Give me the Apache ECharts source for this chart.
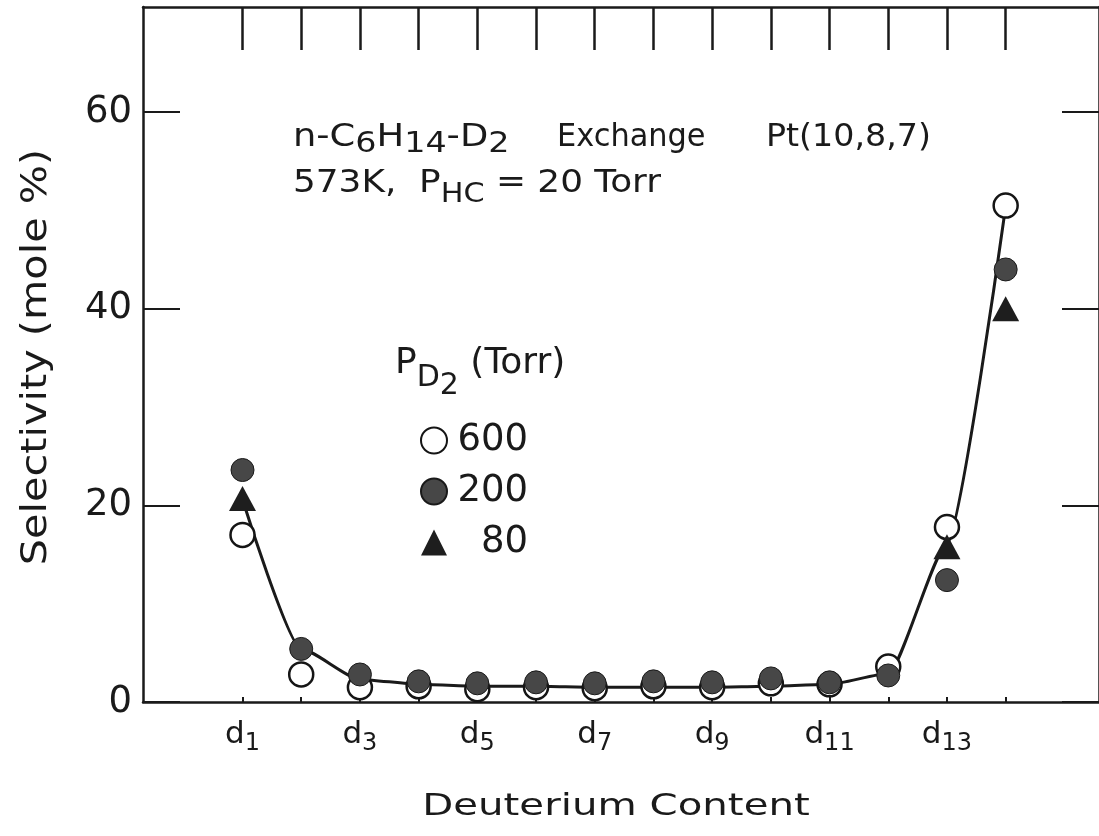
<!DOCTYPE html>
<html>
<head>
<meta charset="utf-8">
<script src="https://cdn.jsdelivr.net/npm/echarts@6/dist/echarts.min.js"></script>
<style>
  html, body { margin: 0; padding: 0; background: #fff; }
  #main { width: 1099px; height: 836px; }
</style>
</head>
<body>
<div id="main"></div>
<script>
// deuterium content d1..d14
const dIndex = [1, 2, 3, 4, 5, 6, 7, 8, 9, 10, 11, 12, 13, 14];
const dLabels = [1, 3, 5, 7, 9, 11, 13];
const yTicks = [0, 20, 40, 60];

// P_D2 = 600 Torr (open circles)
const sel600 = [17.0, 2.8, 1.5, 1.6, 1.3, 1.5, 1.4, 1.6, 1.5, 1.9, 1.8, 3.6, 17.8, 50.5];
// P_D2 = 200 Torr (filled circles)
const sel200 = [23.6, 5.4, 2.8, 2.1, 1.9, 2.0, 1.9, 2.1, 2.0, 2.4, 2.0, 2.7, 12.4, 44.0];
// P_D2 = 80 Torr (triangles), only d1, d13, d14
const d80 = [1, 13, 14];
const sel80 = [20.7, 15.8, 40.0];
// hand drawn curve
const curve = [20.6, 5.4, 2.3, 1.8, 1.6, 1.6, 1.5, 1.5, 1.5, 1.6, 1.8, 2.9, 16.0, 50.4];

const FONT = 'DejaVu Sans';
const INK = '#1a1a1a';

const chart = echarts.init(document.getElementById('main'));

const pair = (xs, ys) => xs.map((x, i) => [x, ys[i]]);

const option = {
  backgroundColor: '#fff',
  animation: false,
  grid: { left: 143, top: 7, right: -5, bottom: 134 },
  xAxis: [
    {
      type: 'value', min: -0.695, max: 15.59, position: 'bottom',
      axisLine: { onZero: false, lineStyle: { color: INK, width: 2.5 } },
      axisTick: { inside: true, length: 5, customValues: dIndex, lineStyle: { color: INK, width: 2 } },
      splitLine: { show: false },
      axisLabel: {
        customValues: dLabels,
        margin: 12,
        formatter: v => '{d|d}{s|' + v + '}',
        rich: {
          d: { fontFamily: FONT, fontSize: 31, color: INK },
          s: { fontFamily: FONT, fontSize: 24, color: INK, padding: [18, 0, 0, 0] }
        }
      }
    },
    {
      type: 'value', min: -0.695, max: 15.59, position: 'top',
      axisLine: { onZero: false, lineStyle: { color: INK, width: 2.5 } },
      axisTick: { inside: true, length: 43, customValues: dIndex, lineStyle: { color: INK, width: 2.5 } },
      axisLabel: { show: false },
      splitLine: { show: false }
    }
  ],
  yAxis: [
    {
      type: 'value', min: 0, max: 70.7, position: 'left',
      axisLine: { show: true, onZero: false, lineStyle: { color: INK, width: 2.5 } },
      axisTick: { show: true, inside: true, length: 37, customValues: yTicks, lineStyle: { color: INK, width: 2 } },
      axisLabel: { customValues: yTicks, margin: 11, fontFamily: FONT, fontSize: 37, color: INK },
      splitLine: { show: false }
    },
    {
      type: 'value', min: 0, max: 70.7, position: 'right',
      axisLine: { show: true, onZero: false, lineStyle: { color: INK, width: 2.5 } },
      axisTick: { show: true, inside: true, length: 37, customValues: yTicks, lineStyle: { color: INK, width: 2 } },
      axisLabel: { show: false },
      splitLine: { show: false }
    }
  ],
  legend: {
    data: ['600', '200', '80'],
    orient: 'vertical',
    left: 415, top: 417,
    itemWidth: 26, itemHeight: 26, itemGap: 14,
    formatter: name => '{n|' + name + '}',
    textStyle: {
      lineHeight: 37,
      rich: { n: { fontFamily: FONT, fontSize: 37, color: INK, width: 76, align: 'right', lineHeight: 37 } }
    }
  },
  graphic: [
    {
      type: 'text', x: 293, y: 138, scaleX: 1.15,
      style: {
        text: 'n-C{s|6}H{s|14}-D{s|2}', fontFamily: FONT, fontSize: 32, fill: INK, verticalAlign: 'middle',
        rich: { s: { fontFamily: FONT, fontSize: 29, fill: INK, padding: [12, 0, 0, 0] } }
      }
    },
    {
      type: 'text', x: 557, y: 138, scaleX: 0.95,
      style: { text: 'Exchange', fontFamily: FONT, fontSize: 32, fill: INK, verticalAlign: 'middle' }
    },
    {
      type: 'text', x: 766, y: 138, scaleX: 1.04,
      style: { text: 'Pt(10,8,7)', fontFamily: FONT, fontSize: 32, fill: INK, verticalAlign: 'middle' }
    },
    {
      type: 'text', x: 293, y: 184, scaleX: 1.12,
      style: {
        text: '573K,  P{s|HC} = 20 Torr', fontFamily: FONT, fontSize: 32, fill: INK, verticalAlign: 'middle',
        rich: { s: { fontFamily: FONT, fontSize: 27, fill: INK, padding: [22, 0, 0, 0] } }
      }
    },
    {
      type: 'text', x: 395, y: 364,
      style: {
        text: 'P{s|D}{ss|2} (Torr)', fontFamily: FONT, fontSize: 36, fill: INK, verticalAlign: 'middle',
        rich: {
          s: { fontFamily: FONT, fontSize: 30, fill: INK, padding: [28, 0, 0, 0] },
          ss: { fontFamily: FONT, fontSize: 30, fill: INK, padding: [44, 0, 0, 0] }
        }
      }
    },
    {
      type: 'text', x: 616, y: 807, scaleX: 1.3,
      style: { text: 'Deuterium Content', fontFamily: FONT, fontSize: 31, fill: INK, align: 'center', verticalAlign: 'middle' }
    },
    {
      type: 'text', x: 37, y: 357, rotation: Math.PI / 2, scaleX: 1.15,
      style: { text: 'Selectivity (mole %)', fontFamily: FONT, fontSize: 36, fill: INK, align: 'center', verticalAlign: 'middle' }
    }
  ],
  series: [
    {
      name: 'curve', type: 'line', data: pair(dIndex, curve),
      symbol: 'none', smooth: 0.2, smoothMonotone: 'x',
      lineStyle: { color: INK, width: 3 }, z: 2, silent: true
    },
    {
      name: '600', type: 'scatter', data: pair(dIndex, sel600),
      symbol: 'circle', symbolSize: 24,
      itemStyle: { color: '#fff', borderColor: '#151515', borderWidth: 2.5, opacity: 1 }, z: 3
    },
    {
      name: '200', type: 'scatter', data: pair(dIndex, sel200),
      symbol: 'circle', symbolSize: 23,
      itemStyle: { color: '#474747', borderColor: '#1a1a1a', borderWidth: 1, opacity: 1 }, z: 4
    },
    {
      name: '80', type: 'scatter', data: pair(d80, sel80),
      symbol: 'triangle', symbolSize: [27, 25],
      itemStyle: { color: '#1e1e1e', opacity: 1 }, z: 5
    }
  ]
};

chart.setOption(option);
</script>
</body>
</html>
